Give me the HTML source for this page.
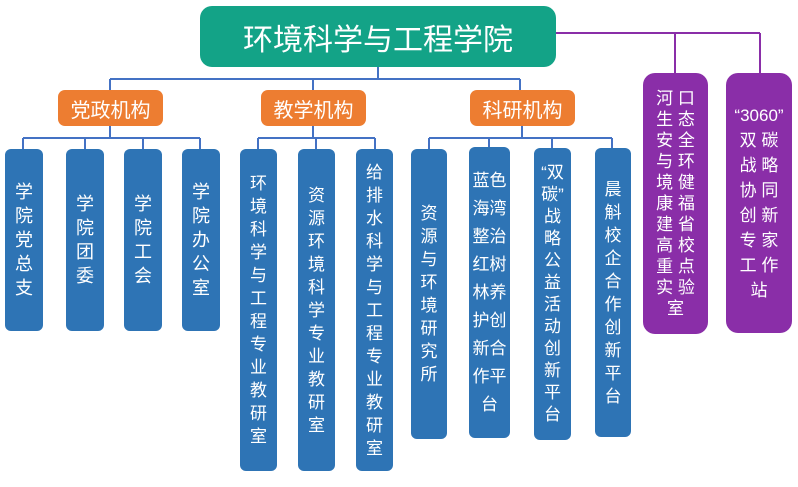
<!DOCTYPE html>
<html><head><meta charset="utf-8"><style>
body{margin:0;width:798px;height:487px;background:#fff;position:relative;overflow:hidden;font-family:"Liberation Sans","Noto Sans CJK SC",sans-serif;}
.b{position:absolute;display:flex;flex-direction:column;justify-content:center;align-items:center;text-align:center;color:#fff;box-sizing:border-box;}
.blue{background:#2e74b5;border-radius:6px;font-size:18px;line-height:24px;}
.org{background:#ed7d31;border-radius:7px;font-size:20px;}
.pur{background:#8a2ea8;border-radius:12px;font-size:17px;line-height:21px;}
svg{position:absolute;left:0;top:0}
</style></head><body>
<svg width="798" height="487">
<g stroke="#4472c4" stroke-width="2" fill="none">
<path d="M378 67V79M110 79H520M110 79V90M313 79V90M520 79V90"/>
<path d="M110 126V138M23 138H200M23 138V149M85 138V149M143 138V149M200 138V149"/>
<path d="M313 126V138M258 138H375M258 138V149M316 138V149M375 138V149"/>
<path d="M522 126V138M429 138H612M429 138V149M489 138V147M552 138V148M612 138V148"/>
</g>
<path d="M556 33H760M675 33V74M760 33V74" stroke="#8a2ea8" stroke-width="2" fill="none"/>
</svg>
<div class="b" style="left:200px;top:6px;width:356px;height:61px;background:#13a387;border-radius:12px;font-size:30px;">环境科学与工程学院</div>
<div class="b org" style="left:58px;top:90px;width:105px;height:36px;">党政机构</div>
<div class="b org" style="left:261px;top:90px;width:105px;height:36px;">教学机构</div>
<div class="b org" style="left:470px;top:90px;width:105px;height:36px;">科研机构</div>
<div class="b blue" style="left:5px;top:149px;width:38px;height:182px;">学<br>院<br>党<br>总<br>支</div>
<div class="b blue" style="left:66px;top:149px;width:38px;height:182px;">学<br>院<br>团<br>委</div>
<div class="b blue" style="left:124px;top:149px;width:38px;height:182px;">学<br>院<br>工<br>会</div>
<div class="b blue" style="left:182px;top:149px;width:38px;height:182px;">学<br>院<br>办<br>公<br>室</div>
<div class="b blue" style="left:240px;top:149px;width:37px;height:322px;font-size:17px;line-height:23px;">环<br>境<br>科<br>学<br>与<br>工<br>程<br>专<br>业<br>教<br>研<br>室</div>
<div class="b blue" style="left:298px;top:149px;width:37px;height:322px;font-size:17px;line-height:23px;">资<br>源<br>环<br>境<br>科<br>学<br>专<br>业<br>教<br>研<br>室</div>
<div class="b blue" style="left:356px;top:149px;width:37px;height:322px;font-size:17px;line-height:23px;">给<br>排<br>水<br>科<br>学<br>与<br>工<br>程<br>专<br>业<br>教<br>研<br>室</div>
<div class="b blue" style="left:411px;top:149px;width:36px;height:290px;font-size:17px;line-height:23px;">资<br>源<br>与<br>环<br>境<br>研<br>究<br>所</div>
<div class="b blue" style="left:469px;top:147px;width:41px;height:291px;font-size:17px;line-height:28px;">蓝色<br>海湾<br>整治<br>红树<br>林养<br>护创<br>新合<br>作平<br>台</div>
<div class="b blue" style="left:534px;top:148px;width:37px;height:292px;font-size:17px;line-height:22px;">“双<br>碳”<br>战<br>略<br>公<br>益<br>活<br>动<br>创<br>新<br>平<br>台</div>
<div class="b blue" style="left:595px;top:148px;width:36px;height:289px;font-size:17px;line-height:23px;">晨<br>斛<br>校<br>企<br>合<br>作<br>创<br>新<br>平<br>台</div>
<div class="b pur" style="left:643px;top:73px;width:65px;height:261px;">河 口<br>生 态<br>安 全<br>与 环<br>境 健<br>康 福<br>建 省<br>高 校<br>重 点<br>实 验<br>室</div>
<div class="b pur" style="left:726px;top:73px;width:66px;height:260px;line-height:25px;">“3060”<br>双 碳<br>战 略<br>协 同<br>创 新<br>专 家<br>工 作<br>站</div>
</body></html>
